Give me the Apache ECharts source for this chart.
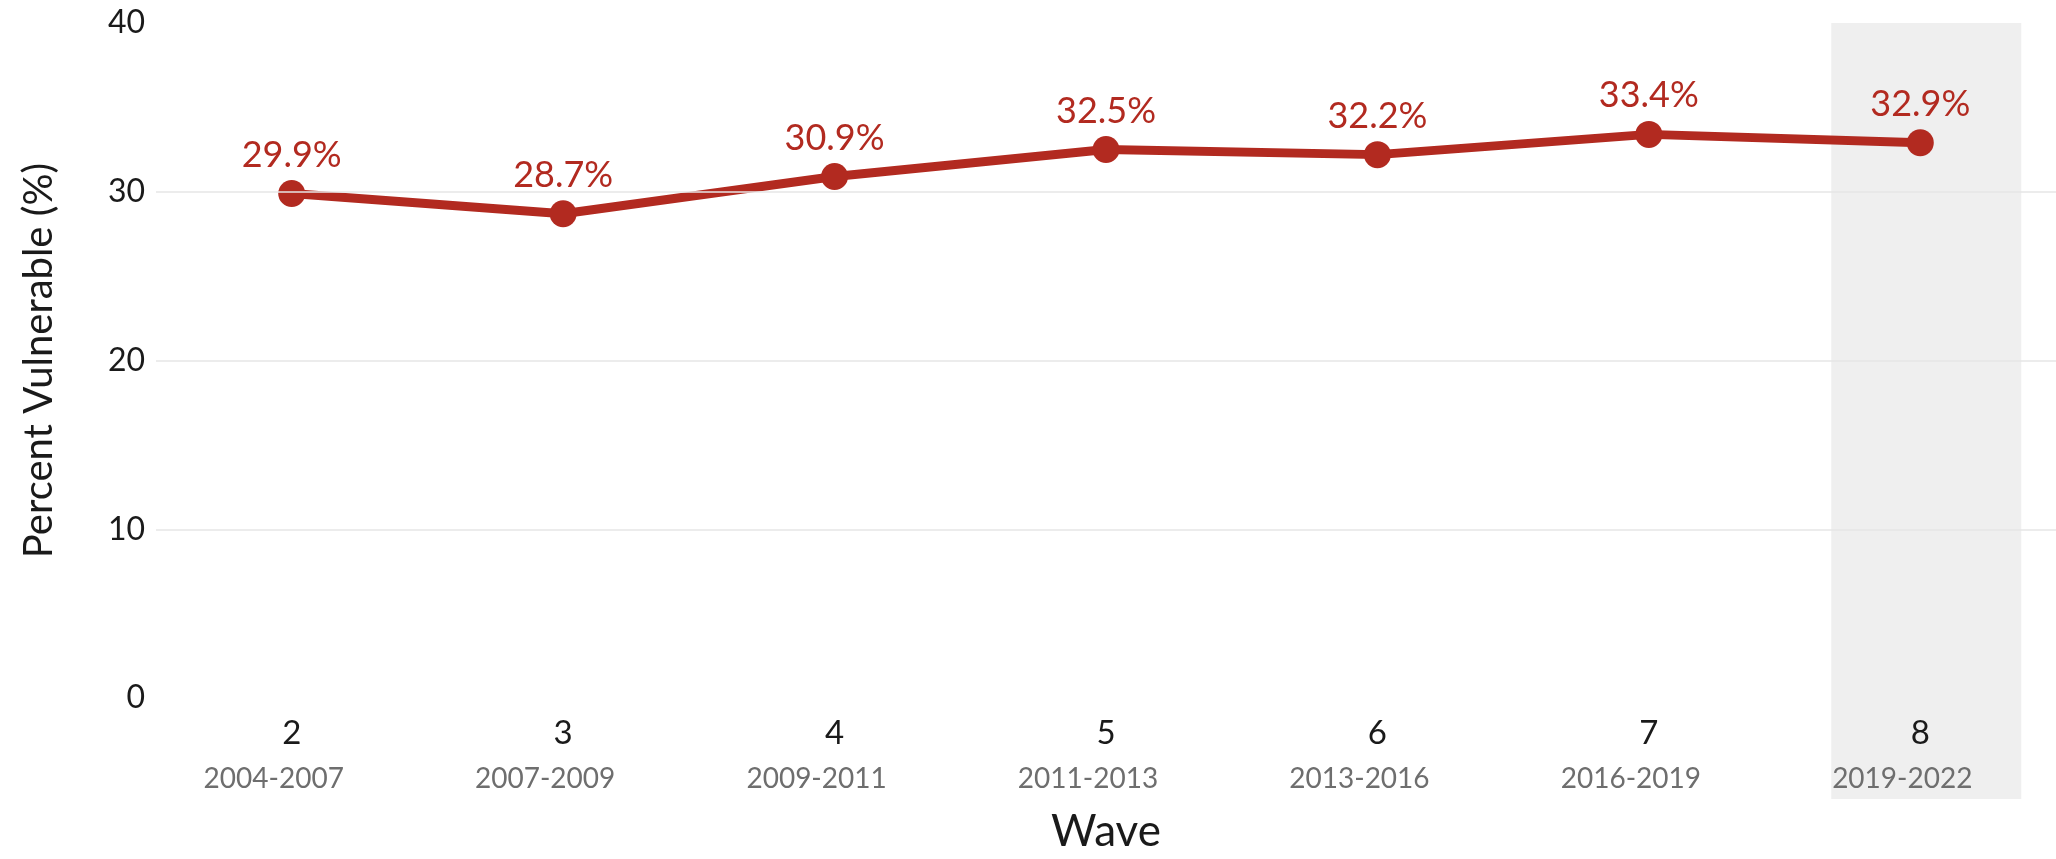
<!DOCTYPE html>
<html>
<head>
<meta charset="utf-8">
<script src="https://cdn.jsdelivr.net/npm/echarts@6/dist/echarts.min.js"></script>
<style>
html,body{margin:0;padding:0;background:#fff;}
#chart{width:2056px;height:859px;}
</style>
</head>
<body>
<div id="chart"></div>
<script>
var waves = ['2', '3', '4', '5', '6', '7', '8'];
var periods = ['2004-2007', '2007-2009', '2009-2011', '2011-2013', '2013-2016', '2016-2019', '2019-2022'];
var percentVulnerable = [29.9, 28.7, 30.9, 32.5, 32.2, 33.4, 32.9];
var highlightedWaves = ['8'];
var yTicks = [0, 10, 20, 30, 40];

var FONT = 'Lato, "Open Sans", sans-serif';
var RED = '#b22a20';

var bandData = highlightedWaves.map(function (w) { return [waves.indexOf(w), yTicks[yTicks.length - 1]]; });

var chart = echarts.init(document.getElementById('chart'), null, { renderer: 'canvas' });
chart.setOption({
  backgroundColor: '#ffffff',
  animation: false,
  textStyle: { fontFamily: FONT },
  grid: { left: 156, right: -6, top: 23, bottom: 158, containLabel: false },
  xAxis: {
    type: 'category',
    data: waves,
    boundaryGap: true,
    z: 5,
    axisLine: { show: false },
    axisTick: { show: false },
    splitLine: { show: false },
    name: 'Wave',
    nameLocation: 'middle',
    nameGap: 112,
    nameTextStyle: { fontFamily: FONT, fontSize: 44, color: '#1a1a1a' },
    axisLabel: {
      margin: 12,
      interval: 0,
      formatter: function (v, i) { return '{a|' + v + '}\n{b|' + periods[i] + '}'; },
      rich: {
        a: { fontFamily: FONT, fontSize: 33, color: '#1a1a1a', lineHeight: 46 },
        b: { fontFamily: FONT, fontSize: 28, color: '#6e6e6e', lineHeight: 46, padding: [0, 36, 0, 0] }
      }
    }
  },
  yAxis: {
    type: 'value',
    min: yTicks[0],
    max: yTicks[yTicks.length - 1],
    interval: 10,
    z: 5,
    axisLine: { show: false },
    axisTick: { show: false },
    splitLine: { show: true, showMinLine: false, showMaxLine: false, lineStyle: { color: '#e6e6e6', width: 1.5 } },
    axisLabel: { fontFamily: FONT, fontSize: 32, color: '#1a1a1a', margin: 11 },
    name: 'Percent Vulnerable (%)',
    nameLocation: 'middle',
    nameGap: 97,
    nameTextStyle: { fontFamily: FONT, fontSize: 40, color: '#1a1a1a' }
  },
  series: [
    {
      type: 'custom',
      z: 0,
      silent: true,
      data: bandData,
      renderItem: function (params, api) {
        var top = api.coord([api.value(0), api.value(1)]);
        var w = api.size([1, 0])[0] * 0.7;
        var cs = params.coordSys;
        var bottom = cs.y + cs.height + 101;
        return {
          type: 'rect',
          shape: { x: top[0] - w / 2 + 6, y: top[1], width: w, height: bottom - top[1] },
          style: { fill: '#efefef' }
        };
      }
    },
    {
      type: 'line',
      z: 3,
      data: percentVulnerable,
      symbol: 'circle',
      symbolSize: 27,
      lineStyle: { color: RED, width: 9 },
      itemStyle: { color: RED },
      label: {
        show: true,
        position: 'top',
        distance: 7,
        formatter: function (p) { return p.value.toFixed(1) + '%'; },
        fontFamily: FONT,
        fontSize: 36,
        color: RED
      }
    }
  ]
});
</script>
</body>
</html>
